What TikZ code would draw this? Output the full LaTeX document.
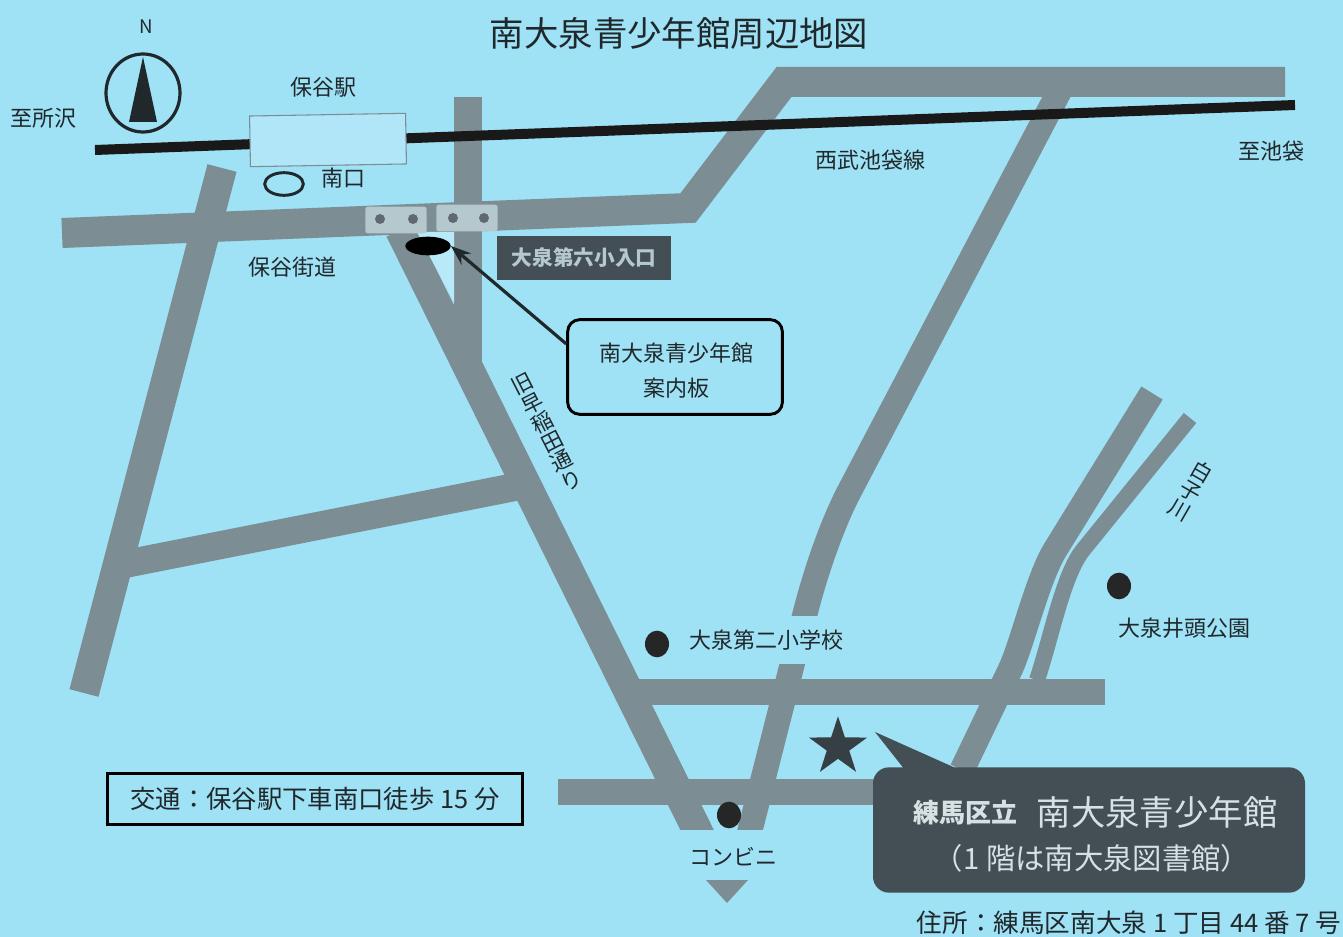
\documentclass[tikz,border=0pt]{standalone}
\usepackage{fontspec}
\setmainfont{Noto Sans CJK JP}
\usetikzlibrary{arrows.meta,shapes.geometric}
\definecolor{bgc}{HTML}{9FE1F5}
\definecolor{roadc}{HTML}{7C8E94}
\definecolor{darkc}{HTML}{434F55}
\definecolor{inkc}{HTML}{20282B}
\definecolor{lightc}{HTML}{B4C8CE}
\newcommand{\fs}[1]{\fontsize{#1}{#1}\selectfont}
\tikzset{
  x=0.75pt,y=-0.75pt,
  road/.style={draw=roadc,line width=#1*0.75pt,line join=miter,line cap=butt},
  lbl/.style={text=inkc,inner sep=1pt,font=\fs{16.5}},
  vlbl/.style={text=inkc,inner sep=1pt,align=center,font=\fontsize{16}{16.2}\selectfont},
  halltext/.style={text=lightc!55!white,inner sep=0pt},
  sig/.style={fill=lightc,rounded corners=2pt,minimum width=46pt,minimum height=20pt,inner sep=0pt},
  sigdot/.style={circle,fill=darkc!85,minimum size=7.5pt,inner sep=0pt},
  pin/.style={ellipse,fill=black!85,minimum width=18pt,minimum height=20pt,inner sep=0pt},
}
\begin{document}
\begin{tikzpicture}
\path[use as bounding box,fill=bgc] (0,0) rectangle (1343,937);
% roads
\draw[road=30] (62,233) -- (688,208) -- (784,82) -- (1285,82);
\draw[road=30] (222,168) -- (84,693);
\draw[road=28] (468,97) -- (468,365);
\draw[road=28] (525,485) -- (125,564);
\draw[road=25] (1060,90) -- (850,490) .. controls (831,526) and (815,575) .. (806,610) -- (745,850);
\draw[road=26] (630,692) -- (1105,692);
\draw[road=26] (558,792) -- (890,792);
\draw[road=25] (1152,393) -- (1055,550) .. controls (1037,580) and (1022,645) .. (1010,670) -- (962,770);
\draw[road=16] (1190,418) -- (1083,550) .. controls (1063,575) and (1052,635) .. (1037,680);
\draw[road=30] (400,230) -- (707,850);
\fill[bgc!75!white] (417,232) -- (454,232) -- (454,302) -- cycle;
% flat foot of the two roads
\fill[bgc] (660,830) rectangle (785,860);
\fill[roadc] (706,880) -- (748,880) -- (727,903) -- cycle;
% rail and station
\draw[line width=7.5pt,draw=black!90] (95,150) -- (1295,105);
\node[draw=roadc,fill=bgc!82!white,line width=0.8pt,rotate=1,minimum width=117pt,minimum height=38pt,inner sep=0pt] (station) at (328,140) {};
\node[ellipse,draw=inkc,line width=2.2pt,minimum width=29pt,minimum height=17pt,inner sep=0pt] (southexit) at (284,184) {};
% signals
\node[sig] (s1) at (396,220) {};
\node[sig] (s2) at (467,218) {};
\node[sigdot] (s1a) at (380,219) {};
\node[sigdot] (s1b) at (413,219) {};
\node[sigdot] (s2a) at (453,218) {};
\node[sigdot] (s2b) at (484,218) {};
\node[ellipse,fill=black,minimum width=34pt,minimum height=14pt,inner sep=0pt] (board) at (428,246) {};
% compass
\draw[line width=2.4pt,draw=inkc] (143,93) ellipse [x radius=37,y radius=39];
\fill[inkc] (143,57) -- (157,122) -- (129,122) -- cycle;
% labels
\node[lbl,font=\fs{14}] (north) at (146,27) {N};
\node[lbl,font=\fs{25.8}] (title) at (679,33) {南大泉青少年館周辺地図};
\node[lbl] (t1) at (44,118) {至所沢};
\node[lbl] (t2) at (323,87) {保谷駅};
\node[lbl] (t3) at (343,178) {南口};
\node[lbl] (t4) at (292,267) {保谷街道};
\node[lbl] (t5) at (870,160) {西武池袋線};
\node[lbl] (t6) at (1271,151) {至池袋};
\node[vlbl,rotate=27] (t7) at (547,432) {旧\\早\\稲\\田\\通\\り};
\node[vlbl,rotate=-30] (t8) at (1191,491) {白\\子\\川};
\node[lbl,fill=bgc,minimum height=36pt] (t9) at (766,640) {大泉第二小学校};
\node[lbl] (t10) at (1184,628) {大泉井頭公園};
\node[lbl] (t11) at (733,857) {コンビニ};
\node[pin] (p1) at (657,644) {};
\node[pin] (p2) at (1119,586) {};
\node[pin] (p3) at (729,815) {};
% dark sign
\node[fill=darkc,text=lightc,minimum width=131pt,minimum height=33pt,inner sep=0pt,font=\fs{15.5}\bfseries] (sixth) at (584,258) {大泉第六小入口};
% callout
\node[draw=black,line width=2.2pt,rounded corners=9pt,fill=bgc,minimum width=161pt,minimum height=71pt,inner sep=0pt] (guide) at (675,367) {};
\node[lbl] (g1) at (676,353) {南大泉青少年館};
\node[lbl] (g2) at (676,388) {案内板};
\draw[-{Stealth[length=15pt,width=11pt]},line width=2.4pt,draw=inkc] (guide.168) -- (board.east);
% access box
\node[draw=black,line width=2.2pt,minimum width=311pt,minimum height=38pt,inner sep=0pt,font=\fs{19},text=inkc] (access) at (315,799) {交通：保谷駅下車南口徒歩 15 分};
% star
\node[star,star points=5,star point ratio=2.6,fill=darkc!80!black,minimum size=46pt,inner sep=0pt] (mark) at (838,747) {};
% museum callout
\fill[darkc] (875,732) -- (960,770) -- (905,770) -- cycle;
\node[fill=darkc,rounded corners=12pt,minimum width=324pt,minimum height=94pt,inner sep=0pt] (hall) at (1089,830) {};
\node[halltext,font=\fs{19.5}\bfseries] (h1) at (965,813) {練馬区立};
\node[halltext,font=\fs{25.8}] (h2) at (1157,812) {南大泉青少年館};
\node[halltext,font=\fs{22}] (h3) at (1092,858) {（1 階は南大泉図書館）};
\node[lbl,font=\fs{19.2}] (addr) at (1129,923) {住所：練馬区南大泉 1 丁目 44 番 7 号};
\end{tikzpicture}
\end{document}
